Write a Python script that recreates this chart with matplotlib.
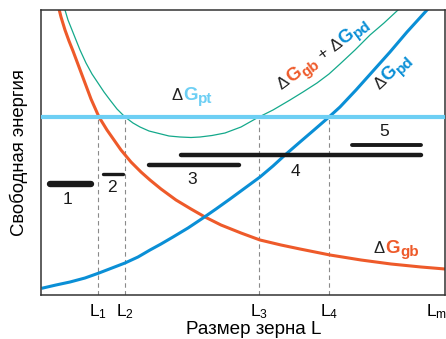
import math
import matplotlib
matplotlib.use("Agg")
import matplotlib.pyplot as plt
from matplotlib.transforms import offset_copy
from matplotlib.textpath import TextPath
from matplotlib.font_manager import FontProperties

plt.rcParams["font.family"] = ["Liberation Sans", "DejaVu Sans"]
plt.rcParams["mathtext.fontset"] = "custom"
plt.rcParams["mathtext.rm"] = "Liberation Sans"
plt.rcParams["mathtext.it"] = "Liberation Sans"

# Curves (grain size, free energy), arbitrary units
GB_SIZE = [17, 20, 24, 28, 32, 38, 44, 50, 58, 66, 73, 80, 90, 100, 109, 120,
           135, 150, 164, 180, 200, 219, 240, 259, 289, 320, 350, 380, 404]
GB_ENERGY = [290, 278, 265, 254, 244, 228, 212, 196, 178, 165, 155, 145, 133, 123, 115, 106,
             95, 86, 78, 70, 62, 55, 50, 46, 40, 35, 31, 28, 26]

PD_SIZE = [2, 15, 29, 44, 58, 71, 84, 97, 109, 120, 132, 147, 162, 175, 189, 204,
           219, 232, 244, 259, 273, 288, 299, 315, 332, 349, 366, 386]
PD_ENERGY = [7, 10, 13, 17, 22, 27, 32, 38, 45, 51, 58, 67, 77, 86, 96, 107,
             118, 129, 140, 153, 165, 178, 188, 205, 224, 243, 263, 285]

SUM_SIZE = [24, 27, 31, 35, 39, 45, 51, 57, 63, 69, 76, 84, 92, 99, 108, 116, 128,
            139, 150, 159, 171, 184, 200, 216, 232, 249, 262, 276, 288, 299, 314, 329, 343, 357]
SUM_ENERGY = [285, 275, 265, 255, 245, 232, 221, 212, 203, 195, 186, 178, 172, 168, 164, 162, 159,
              158, 157.5, 158, 159.5, 162, 168, 177, 185, 195, 203, 212, 221, 231, 245, 260, 272, 285]

PT_ENERGY = 178

# Critical sizes and their labels
L_SIZES = [57, 84, 218, 288, 396]
L_LABELS = ["L$_1$", "L$_2$", "L$_3$", "L$_4$", "L$_m$"]

# Stability ranges 1..5
RANGE_START = [9, 62, 108, 140, 311]
RANGE_END = [50, 82, 198, 380, 380]
RANGE_ENERGY = [111, 121, 130, 140, 150]
RANGE_WIDTH = [4.6, 2.4, 3.2, 3.2, 2.8]
RANGE_NAMES = ["1", "2", "3", "4", "5"]
RANGE_LABEL_POS = [(27, 95), (71, 107), (151, 115), (254, 123), (343, 163)]

RED = "#EE5A2A"
BLUE = "#0A8FD6"
TEAL = "#14A98B"
CYAN = "#6DCFF4"
DASH = "#8a8a8a"
INK = "#222222"

fig = plt.figure(figsize=(4.46, 3.39), dpi=100)
ax = fig.add_axes([41 / 446, 44 / 339, 404 / 446, 285 / 339])
ax.set_xlim(0, 404)
ax.set_ylim(0, 285)

for x in L_SIZES[:4]:
    ax.plot([x, x], [0, PT_ENERGY], color=DASH, lw=0.8, dashes=(4, 3), zorder=1)

ax.plot(GB_SIZE, GB_ENERGY, color=RED, lw=2.2, zorder=2)
ax.plot(PD_SIZE, PD_ENERGY, color=BLUE, lw=2.2, zorder=2)
ax.plot(SUM_SIZE, SUM_ENERGY, color=TEAL, lw=0.9, zorder=2)
ax.axhline(PT_ENERGY, color=CYAN, lw=3.0, zorder=3)

for x0, x1, e, w, name, pos in zip(RANGE_START, RANGE_END, RANGE_ENERGY,
                                   RANGE_WIDTH, RANGE_NAMES, RANGE_LABEL_POS):
    ax.plot([x0, x1], [e, e], color="#1a1a1a", lw=w, solid_capstyle="round", zorder=4)
    ax.text(pos[0], pos[1], name, fontsize=12.5, ha="center", va="center", color="#1a1a1a")

ax.set_xticks(L_SIZES)
ax.set_xticklabels(L_LABELS, fontsize=12.5)
ax.tick_params(axis="x", length=0, pad=5)
ax.set_yticks([])
for s in ax.spines.values():
    s.set_color("#333333")
    s.set_linewidth(1.1)

ax.set_ylabel("Свободная энергия", fontsize=13.3, labelpad=9)
fig.text(254 / 446, 5 / 339, "Размер зерна L", fontsize=13.6, ha="center", va="baseline")


def rich_label(x, y, pieces, angle=0.0):
    # pieces: (text, color, size, bold, rise in points)
    adv = 0.0
    a = math.radians(angle)
    for txt, color, size, bold, rise in pieces:
        dx = adv * math.cos(a) - rise * math.sin(a)
        dy = adv * math.sin(a) + rise * math.cos(a)
        tr = offset_copy(ax.transData, fig=fig, x=dx, y=dy, units="points")
        weight = "bold" if bold else "normal"
        ax.text(x, y, txt, transform=tr, color=color, fontsize=size, fontweight=weight,
                rotation=angle, rotation_mode="anchor", ha="left", va="baseline", zorder=5)
        prop = FontProperties(family="Liberation Sans", weight=weight)
        ext = TextPath((0, 0), txt.replace(" ", "_"), size=size, prop=prop).get_extents()
        adv += ext.x1 + 0.8


rich_label(131, 195, [("Δ", INK, 12, False, 0),
                      ("G", CYAN, 13.5, True, 0),
                      ("pt", CYAN, 11, True, -2.5)])
rich_label(333, 42, [("Δ", INK, 12, False, 0),
                     ("G", RED, 13.5, True, 0),
                     ("gb", RED, 11, True, -2.5)])
rich_label(241, 205, [("Δ", INK, 12, False, 0),
                      ("G", RED, 13.5, True, 0),
                      ("gb", RED, 11, True, -2.5),
                      (" +", INK, 12, False, 0),
                      ("Δ", INK, 12, False, 0),
                      ("G", BLUE, 13.5, True, 0),
                      ("pd", BLUE, 11, True, -2.5)], angle=36.5)
rich_label(338, 205, [("Δ", INK, 12, False, 0),
                      ("G", BLUE, 13.5, True, 0),
                      ("pd", BLUE, 11, True, -2.5)], angle=43)

fig.savefig("out.png", dpi=100, facecolor="white")
